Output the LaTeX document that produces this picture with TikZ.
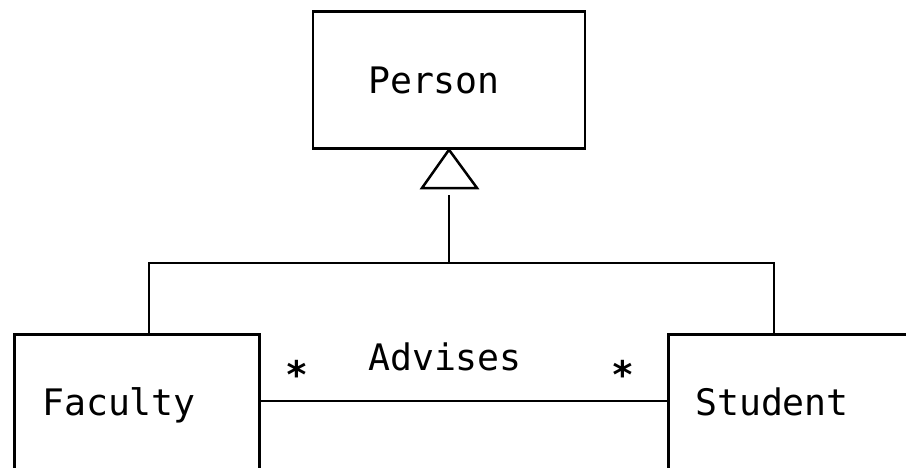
\documentclass[tikz,border=0pt]{standalone}
\usepackage{fontspec}
\setmonofont{DejaVu Sans Mono}
\begin{document}
\begin{tikzpicture}[x=1pt,y=-1pt,
  line width=2.5pt,
  umltext/.style={font=\ttfamily\fontsize{36.5}{40}\selectfont, inner sep=0pt, anchor=base},
  classbox/.style={draw, rectangle, inner sep=0pt},
  mult/.style={font=\ttfamily\bfseries\fontsize{38}{40}\selectfont, inner sep=0pt, anchor=center}]
  \useasboundingbox (0,0) rectangle (906,467);
  \begin{scope}
  \clip (0,0) rectangle (906,467);

  % classes
  \node[classbox, minimum width=272pt, minimum height=137pt] (person) at (449,80) {};
  \node[umltext] at (434,93) {Person};

  \node[classbox, minimum width=245pt, minimum height=200pt, anchor=north west] (faculty) at (13,333) {};
  \node[umltext] at (119,415) {Faculty};

  \node[classbox, minimum width=260pt, minimum height=200pt, anchor=north west] (student) at (667,333) {};
  \node[umltext] at (772,415) {Student};

  % generalisation: hollow triangle under Person
  \coordinate (apex) at (person.south);
  \coordinate (tl) at (422,188);
  \coordinate (tr) at (477,188);
  \draw[line join=miter] (apex) -- (tl) -- (tr) -- cycle;

  \coordinate (stem) at (449,195);
  \coordinate (bus) at (449,263);
  \coordinate (busl) at (149,263);
  \coordinate (busr) at (774,263);
  \draw (stem) -- (bus);
  \draw (busl |- faculty.north) -- (busl) -- (busr) -- (busr |- student.north);

  % association
  \draw (faculty.east |- 0,401) -- (student.west |- 0,401);
  \node[umltext] at (445,370) {Advises};
  \node[mult] at (297,374) {*};
  \node[mult] at (623,374) {*};
  \end{scope}
\end{tikzpicture}
\end{document}
